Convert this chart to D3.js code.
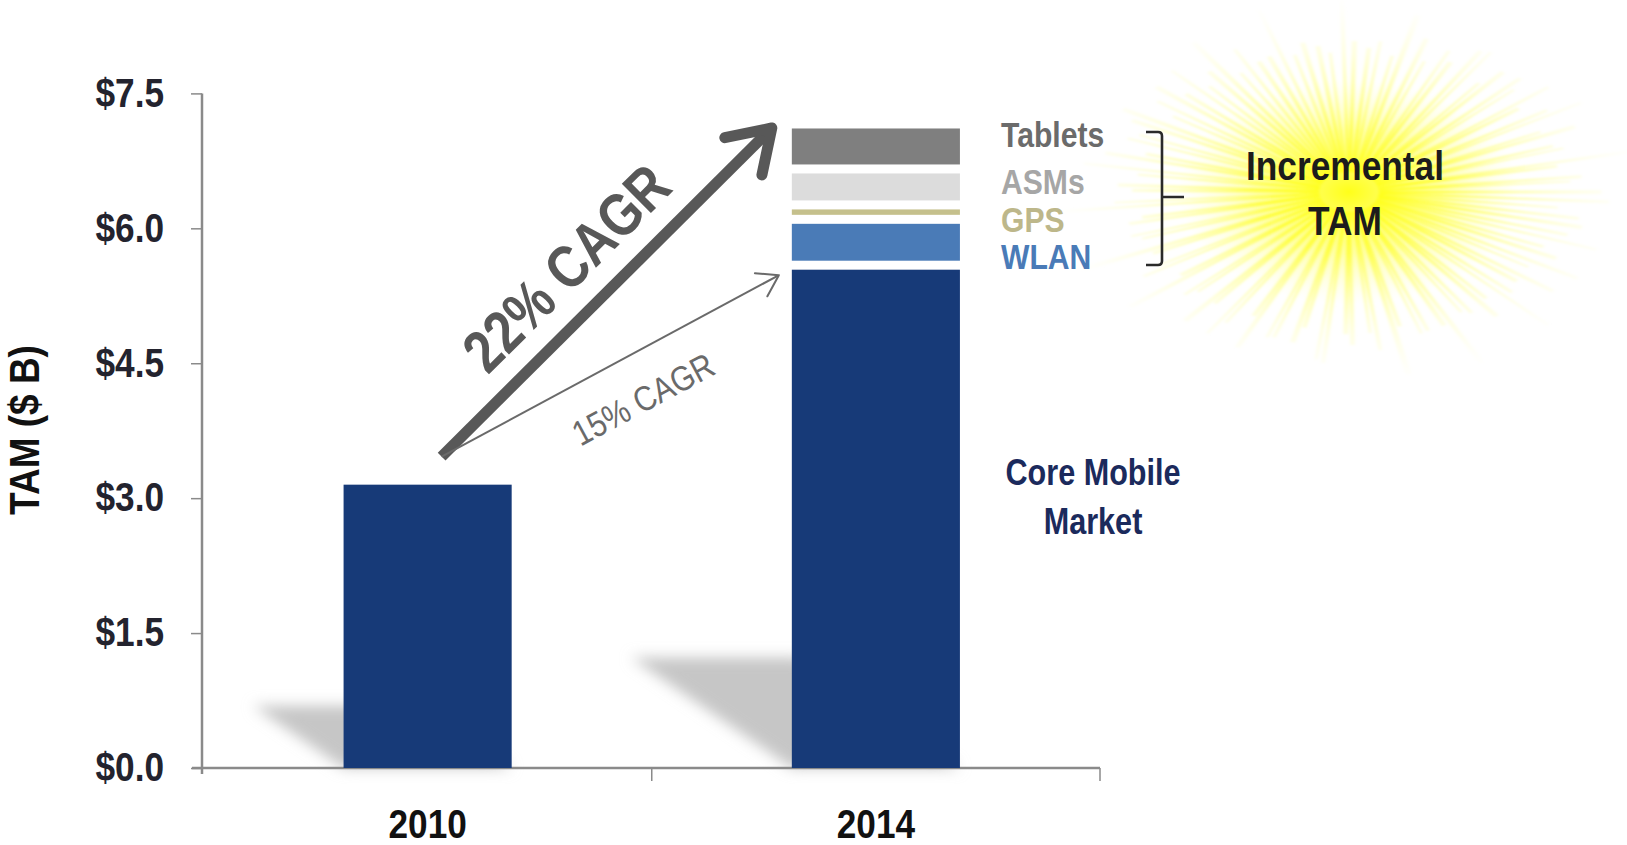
<!DOCTYPE html>
<html>
<head>
<meta charset="utf-8">
<script src="https://cdn.jsdelivr.net/npm/d3@7"></script>
<style>
  html, body { margin: 0; padding: 0; background: #fff; }
  svg { display: block; }
  text { font-family: "Liberation Sans Narrow", "Arial Narrow", "Liberation Sans", sans-serif; }
</style>
</head>
<body>
<script>
let width = 1627
let height = 845

// data ($ B)
let years = ['2010', '2014']
let coreMarket = [3.15, 5.59]
let segNames = ['WLAN', 'GPS', 'ASMs', 'Tablets']
let seg2014 = [0.51, 0.16, 0.40, 0.50]
let segColors = ['#4a7bb7', '#c5c08c', '#dcdcdc', '#7f7f7f']
let labelColors = ['#4a7bb7', '#bdb78a', '#a6a6a6', '#6b6b6b']
let yTicks = [0, 1.5, 3.0, 4.5, 6.0, 7.5]
let growth = ['22% CAGR', '15% CAGR']

let svg = d3.select('body').append('svg')
  .attr('width', width)
  .attr('height', height)

// squeeze text horizontally, the source uses a narrow face
function narrow(sel, k) {
  sel.each(function () {
    let l = this.getComputedTextLength()
    this.setAttribute('textLength', l * k)
    this.setAttribute('lengthAdjust', 'spacingAndGlyphs')
  })
}

let defs = svg.append('defs')
defs.append('filter').attr('id', 'blur')
  .attr('x', '-30%').attr('y', '-30%').attr('width', '160%').attr('height', '160%')
  .append('feGaussianBlur').attr('stdDeviation', 7)
defs.append('filter').attr('id', 'soft')
  .attr('x', '-10%').attr('y', '-10%').attr('width', '120%').attr('height', '120%')
  .append('feGaussianBlur').attr('stdDeviation', 1.6)

let y = d3.scaleLinear().domain([0, 7.5]).range([768, 93.4])
let x = d3.scaleBand().domain(years).range([203.5, 1100])
  .paddingInner(0.625).paddingOuter(0.3125)

// ---------- sunburst behind "Incremental TAM"
let cx = 1349, cy = 192
let glow = defs.append('radialGradient').attr('id', 'glow')
  .attr('gradientUnits', 'userSpaceOnUse')
  .attr('cx', 0).attr('cy', 0).attr('r', 300)
glow.append('stop').attr('offset', '0%').attr('stop-color', '#ffff00').attr('stop-opacity', 1)
glow.append('stop').attr('offset', '30%').attr('stop-color', '#ffff20').attr('stop-opacity', 0.8)
glow.append('stop').attr('offset', '70%').attr('stop-color', '#ffff90').attr('stop-opacity', 0.3)
glow.append('stop').attr('offset', '100%').attr('stop-color', '#ffffd0').attr('stop-opacity', 0)

let core = defs.append('radialGradient').attr('id', 'core')
core.append('stop').attr('offset', '0%').attr('stop-color', '#ffff00').attr('stop-opacity', 0.9)
core.append('stop').attr('offset', '55%').attr('stop-color', '#ffff40').attr('stop-opacity', 0.45)
core.append('stop').attr('offset', '100%').attr('stop-color', '#ffffa0').attr('stop-opacity', 0)

let sun = svg.append('g').attr('transform', 'translate(' + cx + ',' + cy + ') scale(1,0.66)')
let nRays = 110
let rays = d3.range(nRays).map(i => {
  let a = i / nRays * 2 * Math.PI + 0.015 * Math.sin(i * 3.1)
  let len = 210 + 85 * (0.5 + 0.5 * Math.sin(i * 2.39)) * (0.6 + 0.4 * Math.cos(i * 1.3))
  let w = 0.007 + 0.005 * (0.5 + 0.5 * Math.cos(i * 4.7))
  return {a: a, len: len, w: w}
})
sun.append('g').attr('filter', 'url(#soft)')
  .selectAll('path.ray').data(rays).enter().append('path')
  .attr('class', 'ray')
  .attr('d', d => {
    let r0 = 30
    return 'M' + r0 * Math.cos(d.a - d.w * 3) + ',' + r0 * Math.sin(d.a - d.w * 3) +
      'L' + d.len * Math.cos(d.a - d.w) + ',' + d.len * Math.sin(d.a - d.w) +
      'L' + d.len * Math.cos(d.a + d.w) + ',' + d.len * Math.sin(d.a + d.w) +
      'L' + r0 * Math.cos(d.a + d.w * 3) + ',' + r0 * Math.sin(d.a + d.w * 3) + 'Z'
  })
  .attr('fill', 'url(#glow)')
sun.append('circle').attr('r', 170).attr('fill', 'url(#core)')

// ---------- shadows
let dxShadow = 0.32, dyShadow = 0.22
svg.append('g').selectAll('path').data(years).enter().append('path')
  .attr('d', (d, i) => {
    let h = y(0) - y(coreMarket[i])
    let x0 = x(d), x1 = x(d) + x.bandwidth(), b = y(0)
    return 'M' + x0 + ',' + b + 'L' + x1 + ',' + b +
      'L' + (x1 - dxShadow * h) + ',' + (b - dyShadow * h) +
      'L' + (x0 - dxShadow * h) + ',' + (b - dyShadow * h) + 'Z'
  })
  .attr('fill', '#c6c6c6')
  .attr('filter', 'url(#blur)')

// ---------- axes
let yAxis = svg.append('g')
  .attr('transform', 'translate(202,0)')
  .call(d3.axisLeft(y).tickValues(yTicks).tickSize(11).tickPadding(27)
    .tickFormat(d => '$' + d.toFixed(1)))
yAxis.select('.domain').remove()
yAxis.selectAll('.tick line').attr('stroke', '#8a8a8a').attr('stroke-width', 1.5)
yAxis.selectAll('.tick text')
  .attr('font-size', 40).attr('font-weight', 'bold').attr('fill', '#23232e')
  .attr('font-family', null)
  .call(narrow, 0.88)
yAxis.append('line').attr('x1', 0).attr('x2', 0)
  .attr('y1', y(7.5)).attr('y2', y(0) + 6)
  .attr('stroke', '#8a8a8a').attr('stroke-width', 2.5)

let xAxis = svg.append('g')
  .attr('transform', 'translate(0,' + y(0) + ')')
  .call(d3.axisBottom(x).tickSize(0).tickPadding(42))
xAxis.select('.domain').remove()
xAxis.selectAll('.tick text')
  .attr('font-size', 40).attr('font-weight', 'bold').attr('fill', '#111')
  .attr('font-family', null)
  .call(narrow, 0.88)
xAxis.append('line').attr('x1', 192).attr('x2', 1100)
  .attr('stroke', '#8a8a8a').attr('stroke-width', 2.5)
let bounds = [(x(years[0]) + x.bandwidth() + x(years[1])) / 2, 1100]
xAxis.selectAll('line.bt').data(bounds).enter().append('line')
  .attr('class', 'bt')
  .attr('x1', d => d).attr('x2', d => d)
  .attr('y1', 0).attr('y2', 13)
  .attr('stroke', '#8a8a8a').attr('stroke-width', 1.5)

svg.append('text')
  .attr('transform', 'translate(39,' + 430 + ') rotate(-90)')
  .attr('text-anchor', 'middle')
  .attr('font-size', 43).attr('font-weight', 'bold').attr('fill', '#111')
  .text('TAM ($ B)')
  .call(narrow, 0.86)

// ---------- bars
let gap = 4.5
let bars = svg.append('g')
bars.selectAll('rect.core').data(years).enter().append('rect')
  .attr('class', 'core')
  .attr('x', d => x(d))
  .attr('width', x.bandwidth())
  .attr('y', (d, i) => y(coreMarket[i]) + (i == 1 ? gap : 0))
  .attr('height', (d, i) => y(0) - y(coreMarket[i]) - (i == 1 ? gap : 0))
  .attr('fill', '#173a78')

let stack = []
let acc = coreMarket[1]
seg2014.forEach((v, i) => {
  stack.push({name: segNames[i], y0: acc, y1: acc + v, color: segColors[i], label: labelColors[i]})
  acc += v
})
bars.selectAll('rect.seg').data(stack).enter().append('rect')
  .attr('class', 'seg')
  .attr('x', x('2014'))
  .attr('width', x.bandwidth())
  .attr('y', d => y(d.y1) + gap)
  .attr('height', d => y(d.y0) - y(d.y1) - 2 * gap)
  .attr('fill', d => d.color)

// segment labels
let labelYs = [257, 220, 182, 135]
svg.append('g').selectAll('text').data(stack).enter().append('text')
  .attr('x', 1001)
  .attr('y', (d, i) => labelYs[i])
  .attr('dy', '0.35em')
  .attr('font-size', 35).attr('font-weight', 'bold')
  .attr('fill', d => d.label)
  .text(d => d.name)
  .call(narrow, 0.86)

// bracket
let bTop = 132, bBot = 265, bx = 1162, bMid = 197
svg.append('path')
  .attr('d', 'M1146,' + bTop + 'L' + (bx - 4) + ',' + bTop + 'Q' + bx + ',' + bTop + ' ' + bx + ',' + (bTop + 4) +
    'L' + bx + ',' + (bBot - 4) + 'Q' + bx + ',' + bBot + ' ' + (bx - 4) + ',' + bBot + 'L1146,' + bBot +
    'M' + bx + ',' + bMid + 'L1184,' + bMid)
  .attr('fill', 'none').attr('stroke', '#2a2a2a').attr('stroke-width', 2.6)

svg.append('text')
  .attr('text-anchor', 'middle')
  .attr('font-size', 41).attr('font-weight', 'bold').attr('fill', '#1c1c1c')
  .selectAll('tspan').data(['Incremental', 'TAM']).enter().append('tspan')
  .attr('x', 1345).attr('y', (d, i) => 180 + i * 55)
  .text(d => d)
  .call(narrow, 0.86)

svg.append('text')
  .attr('text-anchor', 'middle')
  .attr('font-size', 36).attr('font-weight', 'bold').attr('fill', '#1b2a5c')
  .selectAll('tspan').data(['Core Mobile', 'Market']).enter().append('tspan')
  .attr('x', 1093).attr('y', (d, i) => 485 + i * 49)
  .text(d => d)
  .call(narrow, 0.85)

// ---------- CAGR arrows
let start = [x('2010') + x.bandwidth() / 2 + 14, y(coreMarket[0]) - 28]
let bigEnd = [x('2014') - 20, y(acc) + 4]
let thinEnd = [x('2014') - 13, y(coreMarket[1]) + 10]

function arrow(p0, p1, w, head, color) {
  let a = Math.atan2(p1[1] - p0[1], p1[0] - p0[0])
  let g = svg.append('g')
  g.append('line')
    .attr('x1', p0[0]).attr('y1', p0[1])
    .attr('x2', p1[0] - Math.cos(a) * w * 0.4).attr('y2', p1[1] - Math.sin(a) * w * 0.4)
    .attr('stroke', color).attr('stroke-width', w).attr('stroke-linecap', 'butt')
  let hp = [a + Math.PI - 0.58, a + Math.PI + 0.58].map(t => [p1[0] + head * Math.cos(t), p1[1] + head * Math.sin(t)])
  g.append('path')
    .attr('d', 'M' + hp[0] + 'L' + p1 + 'L' + hp[1])
    .attr('fill', 'none').attr('stroke', color).attr('stroke-width', w)
    .attr('stroke-linecap', 'round').attr('stroke-linejoin', 'round')
  return a
}
let aBig = arrow(start, bigEnd, 11, 48, '#585858')
let aThin = arrow(start, thinEnd, 2, 24, '#6a6a6a')

function along(p0, p1, off, a) {
  let mx = (p0[0] + p1[0]) / 2, my = (p0[1] + p1[1]) / 2
  return [mx + off * Math.sin(a), my - off * Math.cos(a)]
}
let pBig = along(start, bigEnd, 46, aBig)
svg.append('text')
  .attr('transform', 'translate(' + (pBig[0] - 8) + ',' + (pBig[1] + 8) + ') rotate(' + (aBig * 180 / Math.PI) + ')')
  .attr('text-anchor', 'middle').attr('dy', '0.35em')
  .attr('font-size', 60).attr('font-weight', 'bold').attr('fill', '#585858')
  .text(growth[0])
  .call(narrow, 0.84)
let pThin = along(start, thinEnd, -40, aThin)
svg.append('text')
  .attr('transform', 'translate(' + (pThin[0] + 14) + ',' + (pThin[1] - 2) + ') rotate(' + (aThin * 180 / Math.PI) + ')')
  .attr('text-anchor', 'middle').attr('dy', '0.35em')
  .attr('font-size', 35).attr('fill', '#6a6a6a')
  .text(growth[1])
  .call(narrow, 0.86)
</script>
</body>
</html>
